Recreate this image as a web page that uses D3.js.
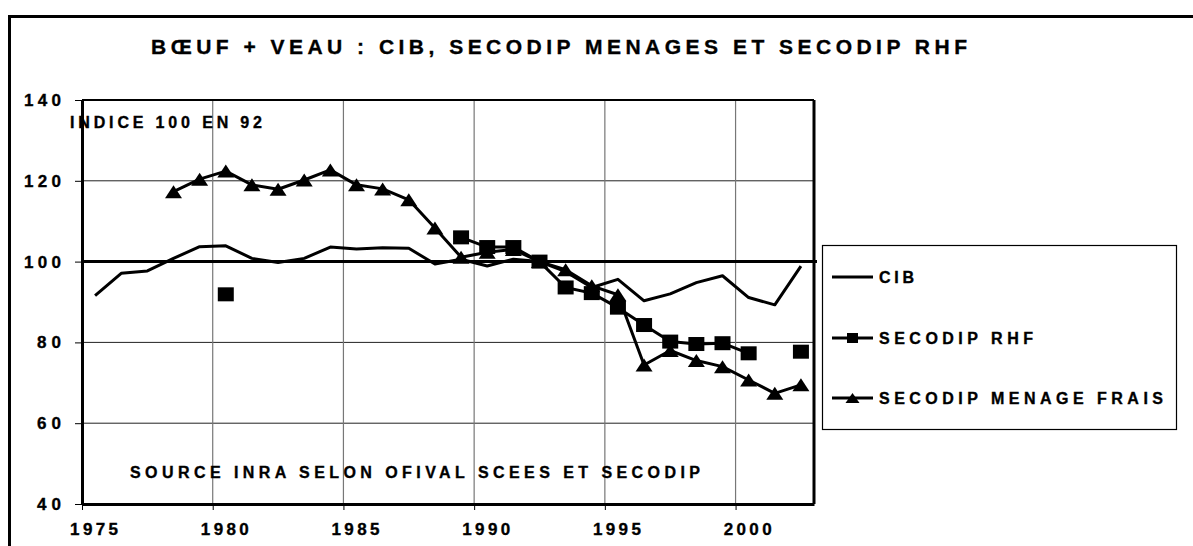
<!DOCTYPE html>
<html><head><meta charset="utf-8">
<script src="https://cdn.jsdelivr.net/npm/d3@7"></script>
<style>body{margin:0;background:#fff}svg{display:block}text{font-family:"Liberation Sans",Arial,sans-serif;font-weight:bold;fill:#000;stroke:#000;stroke-width:0.35px}</style>
</head><body>
<svg id="c" width="1193" height="546"></svg>
<script>
const years = d3.range(1975, 2003);
const cib = [91.6,97.1,97.7,100.8,103.7,103.9,100.8,99.8,100.8,103.6,103.1,103.4,103.3,99.4,100.6,98.9,100.6,100,97.5,93.6,95.6,90.3,92.0,94.8,96.5,91.1,89.3,98.9];
const rhf = [null,null,null,null,null,91.9,null,null,null,null,null,null,null,null,106.0,103.6,103.6,100,93.6,92.2,88.6,84.3,80.2,79.6,79.8,77.3,null,77.7];
const menage = [null,null,null,117.3,120.4,122.4,119.0,117.9,120.2,122.7,119.0,118.0,115.3,108.3,101.1,102.3,103.0,100,98.0,94.0,91.8,74.4,78.0,75.5,74.0,70.7,67.4,69.5];
const yTicks = [40,60,80,100,120,140];
const xLabels = [1975,1980,1985,1990,1995,2000];
const seriesNames = ["CIB","SECODIP RHF","SECODIP MENAGE FRAIS"];
const title = "BŒUF + VEAU : CIB, SECODIP MENAGES ET SECODIP RHF";
const note1 = "INDICE 100 EN 92";
const note2 = "SOURCE INRA SELON OFIVAL SCEES ET SECODIP";

const svg = d3.select("#c");
const L=82, R=814, T=100, B=504;
const x = d3.scaleLinear().domain([1975,2003]).range([L,R]);
const y = d3.scaleLinear().domain([40,140]).range([B,T]);

function fit(sel, width){
  sel.each(function(){
    const n = this.textContent.length;
    const w = this.getComputedTextLength();
    const ls = (width - w)/(n-1);
    d3.select(this).attr("letter-spacing", ls);
  });
}

// outer frame
svg.append("path").attr("d","M9.5,546 V16.5 H1193").attr("fill","none").attr("stroke","#000").attr("stroke-width",3);

// title
svg.append("text").attr("x",151).attr("y",54).attr("font-size",21).text(title).call(fit,816);

// gridlines
const g = svg.append("g");
g.selectAll(".hg").data(yTicks.filter(v=>v!==40&&v!==100&&v!==140)).join("line")
  .attr("x1",L).attr("x2",R).attr("y1",d=>y(d)).attr("y2",d=>y(d)).attr("stroke","#222").attr("stroke-width",1);
g.selectAll(".vg").data(xLabels.filter(v=>v!==1975)).join("line")
  .attr("x1",d=>x(d)).attr("x2",d=>x(d)).attr("y1",T).attr("y2",B).attr("stroke","#777").attr("stroke-width",1.2);
g.append("line").attr("x1",L).attr("x2",R).attr("y1",T).attr("y2",T).attr("stroke","#000").attr("stroke-width",2);
g.append("line").attr("x1",R).attr("x2",R).attr("y1",T).attr("y2",B).attr("stroke","#000").attr("stroke-width",3);
g.append("line").attr("x1",L).attr("x2",R+3).attr("y1",y(100)).attr("y2",y(100)).attr("stroke","#000").attr("stroke-width",3);

// axes
const yAxis = svg.append("g").attr("transform",`translate(${L},0)`)
  .call(d3.axisLeft(y).tickValues(yTicks).tickSize(7).tickSizeOuter(0).tickPadding(0));
yAxis.select(".domain").attr("stroke-width",3);
yAxis.selectAll("text").remove();
svg.append("g").selectAll("text").data(yTicks).join("text")
  .attr("x",d=>String(d).length===3?24:37).attr("y",d=>y(d)+6).attr("font-size",17).text(d=>d)
  .each(function(d){ d3.select(this).call(fit, String(d).length===3?37:24); });
const xAxis = svg.append("g").attr("transform",`translate(0,${B})`)
  .call(d3.axisBottom(x).tickValues(xLabels).tickSize(6).tickSizeOuter(0).tickFormat(()=>""));
xAxis.select(".domain").attr("stroke-width",3);
svg.append("g").selectAll("text").data(xLabels).join("text")
  .attr("x",d=>x(d+0.5)-25).attr("y",535).attr("font-size",17).text(d=>d).call(fit,48);

// notes
svg.append("text").attr("x",70).attr("y",128).attr("font-size",16).text(note1).call(fit,192);
svg.append("text").attr("x",130).attr("y",478).attr("font-size",16).text(note2).call(fit,570);

// series
const pts = arr => years.map((yr,i)=>({x:yr+0.5, v:arr[i]}));
const line = d3.line().defined(d=>d.v!=null).x(d=>x(d.x)).y(d=>y(d.v));
const plot = svg.append("g");
[cib,rhf,menage].forEach(s=>{
  plot.append("path").attr("d",line(pts(s))).attr("fill","none").attr("stroke","#000").attr("stroke-width",3).attr("stroke-linejoin","round");
});
const sq = 16;
plot.selectAll(".sq").data(pts(rhf).filter(d=>d.v!=null)).join("rect")
  .attr("x",d=>x(d.x)-sq/2).attr("y",d=>y(d.v)-sq/2+1).attr("width",sq).attr("height",sq-2).attr("fill","#000");
const tri = (cx,cy,w,h)=>`M${cx-w/2},${cy+h/2} L${cx},${cy-h/2} L${cx+w/2},${cy+h/2} Z`;
plot.selectAll(".tr").data(pts(menage).filter(d=>d.v!=null)).join("path")
  .attr("d",d=>tri(x(d.x),y(d.v),17,13)).attr("fill","#000");

// legend
const lg = svg.append("g");
lg.append("rect").attr("x",822.5).attr("y",245.5).attr("width",354).attr("height",184).attr("fill","#fff").attr("stroke","#000").attr("stroke-width",1.2);
const ly = [277,338,398];
const lw = [35,154,284];
seriesNames.forEach((nm,i)=>{
  lg.append("line").attr("x1",832).attr("x2",873).attr("y1",ly[i]).attr("y2",ly[i]).attr("stroke","#000").attr("stroke-width",3);
  if(i===1) lg.append("rect").attr("x",847).attr("y",ly[i]-5).attr("width",11).attr("height",10).attr("fill","#000");
  if(i===2) lg.append("path").attr("d",tri(852.5,ly[i],14,10)).attr("fill","#000");
  lg.append("text").attr("x",879).attr("y",ly[i]+6).attr("font-size",16).text(nm).call(fit,lw[i]);
});
</script>
</body></html>
